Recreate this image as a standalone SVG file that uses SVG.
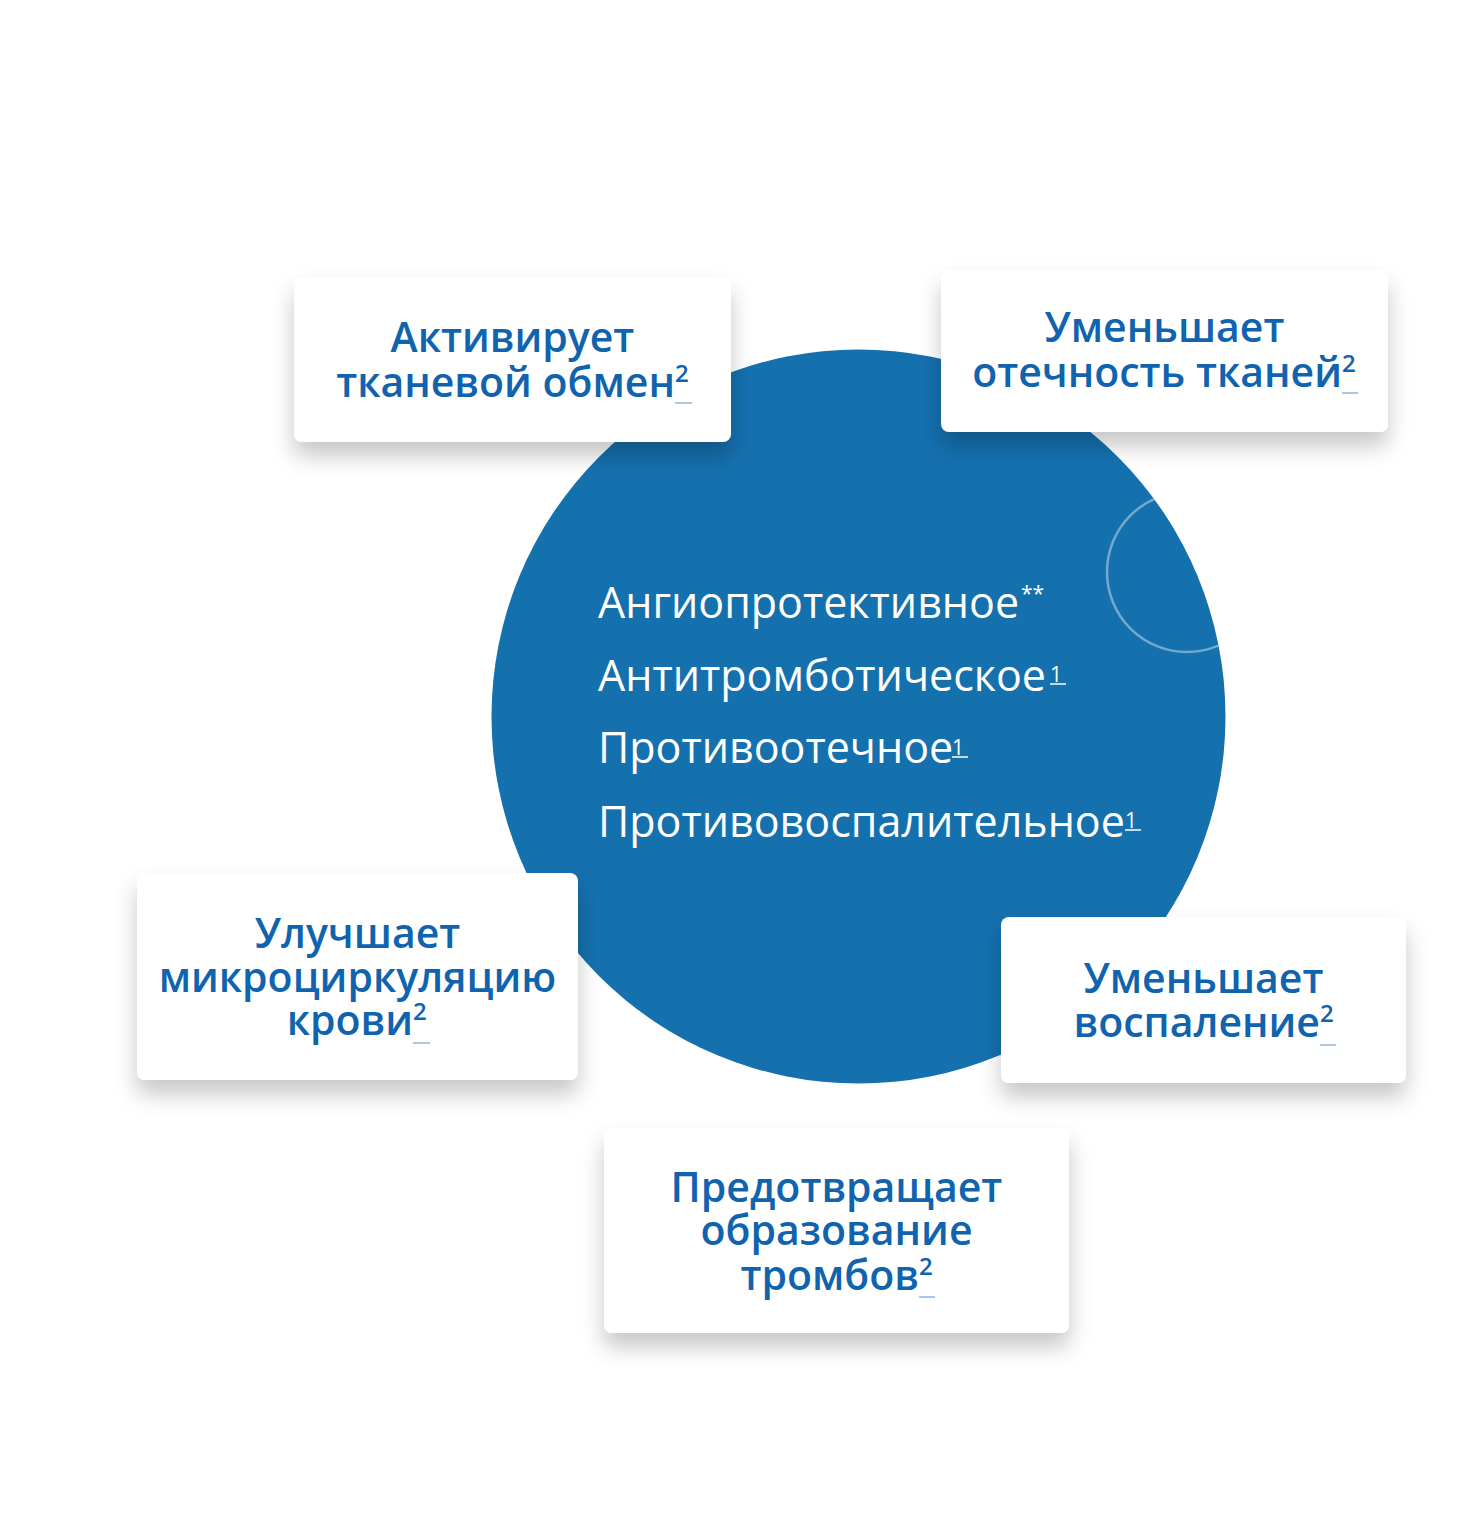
<svg xmlns="http://www.w3.org/2000/svg" width="1459" height="1524" viewBox="0 0 1459 1524">
<style>
.card{fill:#ffffff;filter:url(#sh)}
.ct{font-family:"Open Sans","Noto Sans",sans-serif;font-size:41px;font-weight:600;fill:#1063ae;text-anchor:middle}
.e{text-anchor:end}
.s{text-anchor:start;font-size:24px}
.cc{font-family:"Open Sans","Noto Sans",sans-serif;font-size:43px;font-weight:500;fill:#ffffff}
.cs{font-family:"Open Sans","Noto Sans",sans-serif;font-size:21px;font-weight:500;fill:#ffffff}
.ul{stroke:#8fb5dc;stroke-width:1.5}
.ulw{stroke:#ffffff;stroke-width:1.5}
</style>
<defs>
<filter id="sh" x="-20%" y="-30%" width="140%" height="170%">
<feDropShadow dx="0" dy="14" stdDeviation="11" flood-color="#000000" flood-opacity="0.22"/>
</filter>
<clipPath id="bigc"><circle cx="858.5" cy="716.5" r="367"/></clipPath>
</defs>
<rect width="1459" height="1524" fill="#ffffff"/>
<g id="center">
<circle cx="858.5" cy="716.5" r="367" fill="#1570ae"/>
<circle cx="1187" cy="572" r="80" fill="none" stroke="#ffffff" stroke-opacity="0.4" stroke-width="2.5" clip-path="url(#bigc)"/>
<text class="cc" x="598" y="618">Ангиопротективное</text>
<text class="cs" x="1021" y="601" font-size="16">**</text>
<text class="cc" x="598" y="691">Антитромботическое</text>
<text class="cs" x="1050" y="682">1</text>
<text class="cc" x="598" y="763">Противоотечное</text>
<text class="cs" x="952" y="755">1</text>
<text class="cc" x="598" y="837">Противовоспалительное</text>
<text class="cs" x="1125" y="828">1</text>
<line class="ulw" x1="1050" y1="684" x2="1066" y2="684"/>
<line class="ulw" x1="952" y1="757" x2="968" y2="757"/>
<line class="ulw" x1="1125" y1="830" x2="1141" y2="830"/>
</g>
<g id="connectors"></g>
<g id="n1">
<rect class="card" x="294" y="277" width="437" height="165" rx="8"/>
<text class="ct" x="512.5" y="352">Активирует</text>
<text class="ct e" x="675" y="397">тканевой обмен</text>
<text class="ct s" x="675" y="382">2</text>
<line class="ul" x1="675" y1="403" x2="692" y2="403"/>
</g>
<g id="n2">
<rect class="card" x="941" y="270" width="447" height="162" rx="8"/>
<text class="ct" x="1164.5" y="342">Уменьшает</text>
<text class="ct e" x="1342" y="387">отечность тканей</text>
<text class="ct s" x="1342" y="372">2</text>
<line class="ul" x1="1342" y1="393" x2="1358" y2="393"/>
</g>
<g id="n3">
<rect class="card" x="137" y="873" width="441" height="207" rx="8"/>
<text class="ct" x="357.5" y="948">Улучшает</text>
<text class="ct" x="357.5" y="992">микроциркуляцию</text>
<text class="ct e" x="413" y="1035">крови</text>
<text class="ct s" x="413" y="1020">2</text>
<line class="ul" x1="413" y1="1043" x2="430" y2="1043"/>
</g>
<g id="n4">
<rect class="card" x="1001" y="917" width="405" height="166" rx="8"/>
<text class="ct" x="1203.5" y="993">Уменьшает</text>
<text class="ct e" x="1320" y="1037">воспаление</text>
<text class="ct s" x="1320" y="1022">2</text>
<line class="ul" x1="1320" y1="1045" x2="1336" y2="1045"/>
</g>
<g id="n5">
<rect class="card" x="604" y="1128" width="465" height="205" rx="8"/>
<text class="ct" x="836.5" y="1202">Предотвращает</text>
<text class="ct" x="836.5" y="1245">образование</text>
<text class="ct e" x="919" y="1290">тромбов</text>
<text class="ct s" x="919" y="1275">2</text>
<line class="ul" x1="919" y1="1297" x2="935" y2="1297"/>
</g>
</svg>
